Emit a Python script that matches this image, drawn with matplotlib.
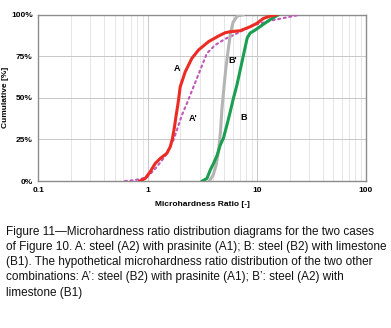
import matplotlib
matplotlib.use("Agg")
import matplotlib.pyplot as plt
from matplotlib.ticker import FixedLocator, LogLocator, NullFormatter

plt.rcParams['font.family'] = ['Liberation Sans', 'DejaVu Sans']

# Curve A (red, solid)
a_x = [0.85, 0.953, 1.058, 1.176, 1.307, 1.504, 1.613, 1.693, 1.766, 1.82, 1.882, 1.921,
       1.991, 2.213, 2.547, 2.928, 3.614, 4.463, 5.139, 5.71, 7.05, 8.70, 10.0, 11.5, 13.3, 15.3]
a_y = [0, 1.6, 5.6, 10.6, 13.6, 16.7, 20.6, 25.7, 32.7, 38.7, 44.7, 48.7,
       56.7, 65.7, 73.8, 78.8, 83.8, 87.2, 89.2, 89.8, 90.4, 92.8, 94.8, 97.8, 99.2, 100]

# Curve A' (magenta, dotted)
ap_x = [0.62, 0.75, 0.86, 1.0, 1.219, 1.45, 1.729, 1.858, 2.064, 2.293, 2.636, 3.035,
        3.495, 4.164, 5.14, 5.71, 7.56, 9.33, 14.2, 24.9]
ap_y = [0, 0.5, 1.2, 2.5, 8.6, 15.0, 24.7, 30.7, 39.7, 46.7, 56.7, 66.7,
        76.8, 81.8, 85.5, 86.8, 90.8, 93.8, 96.8, 100]

# Curve B (green, solid)
b_x = [3.17, 3.50, 3.75, 4.02, 4.34, 4.63, 4.96, 5.33, 5.71, 6.12, 6.58, 7.05, 7.56,
       8.17, 8.70, 9.67, 10.74, 13.27, 15.8]
b_y = [0, 1.6, 6.6, 10.6, 15.6, 21.6, 25.9, 33.7, 41.5, 49.9, 57.7, 66.7, 75.8,
       86.0, 89.0, 90.8, 92.9, 97.1, 100]

# Curve B' (grey, solid)
bp_x = [3.68, 3.99, 4.25, 4.48, 4.67, 4.79, 4.98, 5.19, 5.47, 5.77, 6.08, 6.62, 7.51]
bp_y = [0, 3.6, 9.6, 18.6, 30.7, 42.7, 54.7, 66.7, 78.8, 89.6, 95.6, 99.2, 100]

labels = ["A", "A'", "B'", "B"]
label_x = [1.86, 2.64, 6.08, 7.51]
label_y = [67.8, 37.7, 72.3, 38.3]

x_ticks = [0.1, 1, 10, 100]
x_ticklabels = ["0.1", "1", "10", "100"]
y_ticks = [0, 25, 50, 75, 100]
y_ticklabels = ["0%", "25%", "50%", "75%", "100%"]

caption = ("Figure 11\u2014Microhardness ratio distribution diagrams for the two cases\n"
           "of Figure 10. A: steel (A2) with prasinite (A1); B: steel (B2) with limestone\n"
           "(B1). The hypothetical microhardness ratio distribution of the two other\n"
           "combinations: A\u2019: steel (B2) with prasinite (A1); B\u2019: steel (A2) with\n"
           "limestone (B1)")

fig = plt.figure(figsize=(3.91, 3.28), dpi=100)
ax = fig.add_axes([0.098, 0.448, 0.838, 0.507])
ax.set_xscale('log')
ax.set_xlim(0.1, 100)
ax.set_ylim(0, 100)

ax.xaxis.set_major_locator(FixedLocator(x_ticks))
ax.xaxis.set_minor_locator(LogLocator(base=10, subs=range(2, 10)))
ax.xaxis.set_minor_formatter(NullFormatter())
ax.set_xticks(x_ticks)
ax.set_xticklabels(x_ticklabels, fontsize=6, fontweight='bold')
ax.set_yticks(y_ticks)
ax.set_yticklabels(y_ticklabels, fontsize=6, fontweight='bold')
ax.tick_params(which='both', length=0, pad=4)

ax.grid(True, which='major', color='#c8c8c8', lw=0.7)
ax.grid(True, which='minor', axis='x', color='#e2e2e2', lw=0.6)
ax.set_axisbelow(True)
for s in ax.spines.values():
    s.set_color('#8c8c8c')
    s.set_linewidth(1.0)

ax.plot(ap_x, ap_y, color='#c058b8', lw=1.5, ls=(0, (1, 1.7)), dash_capstyle='round', zorder=3)
ax.plot(bp_x, bp_y, color='#b4b4b4', lw=2.2, zorder=3)
ax.plot(b_x, b_y, color='#1a9e50', lw=2.2, zorder=4)
ax.plot(a_x, a_y, color='#ec2c24', lw=2.2, zorder=5)

for t, lx, ly in zip(labels, label_x, label_y):
    ax.text(lx, ly, t, fontsize=6.5, fontweight='bold', ha='center', va='center', zorder=6)

ax.set_xlabel("Microhardness Ratio [-]", fontsize=6, fontweight='bold', labelpad=5)
fig.text(6 / 391, 1 - 97 / 328, "Cumulative [%]", fontsize=6, fontweight='bold',
         rotation=90, ha='center', va='center')

fig.text(0.016, 0.312, caption, fontsize=8.45, ha='left', va='top', color='#111111',
         linespacing=1.36)

fig.savefig("out.png", dpi=100)
